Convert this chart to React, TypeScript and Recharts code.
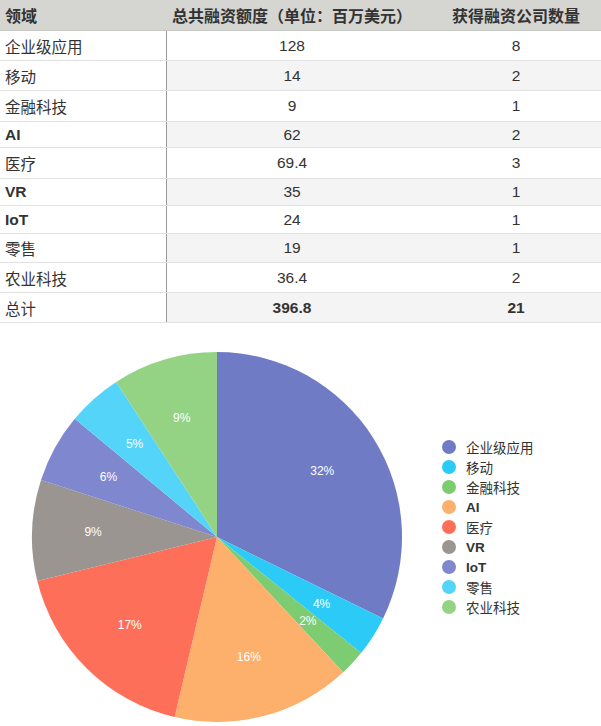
import React from "react";
import { PieChart, Pie, Cell, Legend } from "recharts";

const categories = ["企业级应用", "移动", "金融科技", "AI", "医疗", "VR", "IoT", "零售", "农业科技"];
const fundingAmounts = [128, 14, 9, 62, 69.4, 35, 24, 19, 36.4];
const companyCounts = [8, 2, 1, 2, 3, 1, 1, 1, 2];
const totalLabel = "总计";
const totalFunding = "396.8";
const totalCompanies = "21";
const headers = ["领域", "总共融资额度（单位：百万美元）", "获得融资公司数量"];
const colors = ["#6f7bc5", "#2ccbf7", "#7dcc72", "#fdb06b", "#fe6f5a", "#9a9591", "#7f87cf", "#55d4f9", "#94d384"];

const FONT = '"Liberation Sans", Arial, "Noto Sans CJK SC", sans-serif';
const rowHeights = [31, 30, 30, 31, 26, 31, 27, 28, 29, 30, 30];
const colWidths = [167, 250, 198];

const pieData = categories.map((name, i) => ({ name, value: fundingAmounts[i] }));

const RAD = Math.PI / 180;
const renderLabel = (props: any) => {
  const { cx, cy, midAngle, percent } = props;
  const r = 124;
  const x = cx + r * Math.cos(-midAngle * RAD);
  const y = cy + r * Math.sin(-midAngle * RAD);
  return (
    <text x={x} y={y} fill="#ffffff" fontSize={12} fontFamily={FONT} textAnchor="middle" dominantBaseline="central">
      {`${Math.round(percent * 100)}%`}
    </text>
  );
};

const renderLegend = () => (
  <div style={{ fontFamily: FONT }}>
    {pieData.map((d, i) => (
      <div key={d.name} style={{ display: "flex", alignItems: "center", height: 20 }}>
        <svg width={16} height={16} style={{ marginRight: 9 }}>
          <circle cx={8} cy={8} r={7} fill={colors[i]} />
        </svg>
        <span style={{ fontSize: 13.5, color: "#333", fontWeight: /^[A-Za-z]/.test(d.name) ? 700 : 400 }}>{d.name}</span>
      </div>
    ))}
  </div>
);

export default function App() {
  const rows = [
    ...categories.map((c, i) => [c, String(fundingAmounts[i]), String(companyCounts[i])]),
    [totalLabel, totalFunding, totalCompanies],
  ];
  return (
    <div style={{ position: "absolute", left: 0, top: 0, width: 601, height: 726, overflow: "hidden", background: "#fff", fontFamily: FONT }}>
      <div style={{ position: "absolute", left: 0, top: 0 }}>
        <div style={{ display: "flex", height: rowHeights[0], background: "#d5d5d2", borderBottom: "1px solid #c8c8c4", boxSizing: "border-box" }}>
          {headers.map((h, j) => (
            <div key={h} style={{ width: colWidths[j], display: "flex", alignItems: "center", justifyContent: j === 0 ? "flex-start" : "center", paddingLeft: j === 0 ? 5 : 0, boxSizing: "border-box", fontSize: 16, fontWeight: 700, color: "#333" }}>
              {h}
            </div>
          ))}
        </div>
        {rows.map((r, i) => {
          const isTotal = i === rows.length - 1;
          const shaded = i % 2 === 1;
          return (
            <div key={i} style={{ display: "flex", height: rowHeights[i + 1], borderBottom: "1px solid #e2e2e2", boxSizing: "border-box" }}>
              {r.map((cell, j) => (
                <div key={j} style={{
                  width: colWidths[j], display: "flex", alignItems: "center",
                  justifyContent: j === 0 ? "flex-start" : "center", paddingLeft: j === 0 ? 5 : 0,
                  boxSizing: "border-box", fontSize: 15.5, color: "#333",
                  background: j > 0 && shaded ? "#f4f4f4" : "#fff",
                  borderRight: j === 0 ? "1px solid #999" : "none",
                  fontWeight: (isTotal && j > 0) || (j === 0 && /^[A-Za-z]/.test(cell)) ? 700 : 400,
                }}>
                  {cell}
                </div>
              ))}
            </div>
          );
        })}
      </div>
      <div style={{ position: "absolute", left: 0, top: 336 }}>
        <PieChart width={601} height={390} margin={{ top: 0, right: 0, bottom: 0, left: 0 }}>
          <Pie
            data={pieData}
            dataKey="value"
            nameKey="name"
            cx={217}
            cy={201}
            outerRadius={185}
            startAngle={90}
            endAngle={-270}
            stroke="none"
            label={renderLabel}
            labelLine={false}
            isAnimationActive={false}
          >
            {pieData.map((d, i) => (
              <Cell key={d.name} fill={colors[i]} stroke="none" />
            ))}
          </Pie>
          <Legend
            layout="vertical"
            verticalAlign="middle"
            align="right"
            content={renderLegend}
            wrapperStyle={{ left: 441, top: 101, width: 150 }}
          />
        </PieChart>
      </div>
    </div>
  );
}
